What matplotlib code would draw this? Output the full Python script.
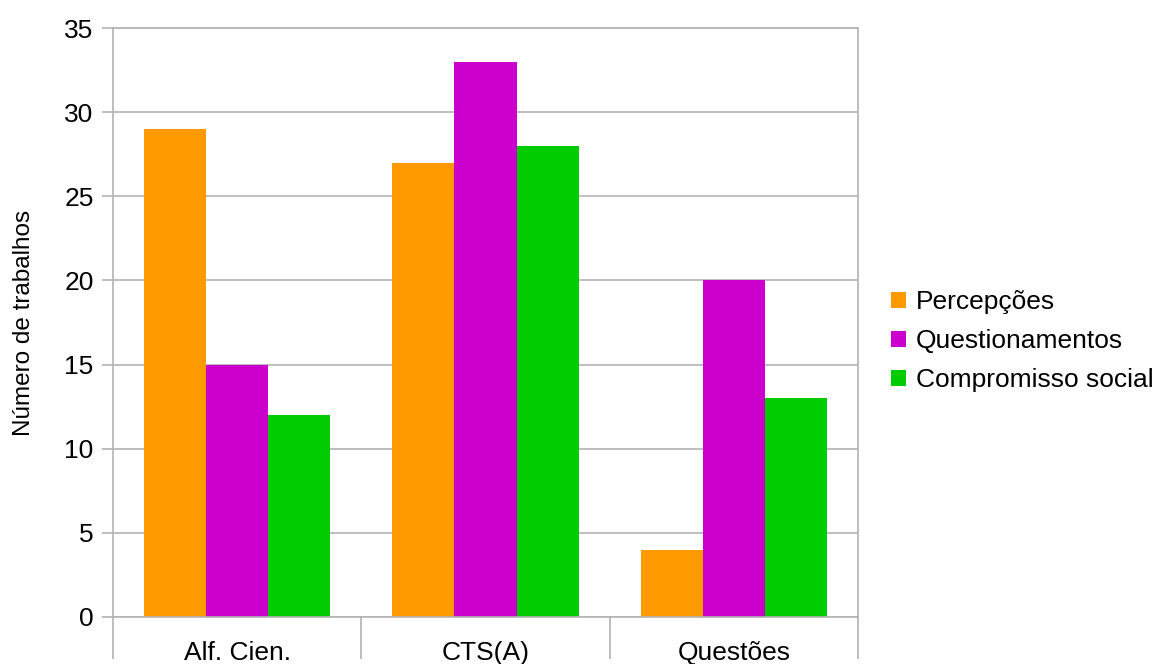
import matplotlib
matplotlib.use("Agg")
import matplotlib.pyplot as plt
import numpy as np

plt.rcParams["font.family"] = ["Liberation Sans", "DejaVu Sans"]

categories = ["Alf. Cien.", "CTS(A)", "Questões"]
series_names = ["Percepções", "Questionamentos", "Compromisso social"]
percepcoes = [29, 27, 4]
questionamentos = [15, 33, 20]
compromisso = [12, 28, 13]
colors = ["#ff9900", "#cc00cc", "#00cc00"]
y_ticks = [0, 5, 10, 15, 20, 25, 30, 35]

grid_color = "#b3b3b3"
font_size = 19

fig = plt.figure(figsize=(11.52, 6.64), dpi=100)
ax = fig.add_axes([113 / 1152, 1 - 617 / 664, (858 - 113) / 1152, (617 - 28) / 664])

x = np.arange(len(categories))
width = 0.25
for i, (name, values) in enumerate(zip(series_names, [percepcoes, questionamentos, compromisso])):
    ax.bar(x + (i - 1) * width, values, width=width, color=colors[i], label=name, zorder=2)

ax.set_xlim(-0.5, len(categories) - 0.5)
ax.set_ylim(0, 35)
ax.set_yticks(y_ticks)
ax.yaxis.grid(True, color=grid_color, linewidth=1.2, zorder=0)
ax.set_axisbelow(True)

# category labels sit low, near the figure edge, as in the original
ax.set_xticks(x)
ax.set_xticklabels(categories, fontsize=font_size)
ax.tick_params(axis="x", which="major", length=0, pad=17)
ax.set_xticks(np.arange(-0.5, len(categories), 1.0), minor=True)
ax.tick_params(axis="x", which="minor", length=30, width=1.2, color=grid_color, direction="out")

ax.tick_params(axis="y", labelsize=font_size, length=8, width=1.2, color=grid_color, pad=6)

for spine in ax.spines.values():
    spine.set_color(grid_color)
    spine.set_linewidth(1.2)

ax.set_ylabel("Número de trabalhos", fontsize=17.5)
ax.yaxis.set_label_coords(-78 / 745, 0.5)

ax.legend(
    loc="center left",
    bbox_to_anchor=(891 / 1152, 1 - 341 / 664),
    bbox_transform=fig.transFigure,
    frameon=False,
    fontsize=font_size,
    handlelength=0.55,
    handleheight=0.55,
    handletextpad=0.38,
    labelspacing=0.57,
    borderpad=0,
    borderaxespad=0,
)

fig.savefig("out.png", dpi=100)
